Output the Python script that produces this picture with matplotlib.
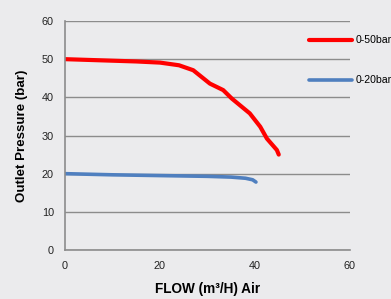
import matplotlib
matplotlib.use('agg')
import matplotlib.pyplot as plt

plt.rcParams['font.family'] = ['Liberation Sans', 'DejaVu Sans']

# flow (m3/h) vs outlet pressure (bar)
flow_50 = [0, 5, 10, 15, 20, 24, 27, 30.5, 33.3, 35.1, 38.9, 41.1, 42.5, 44.6, 45]
pres_50 = [50, 49.8, 49.6, 49.4, 49.1, 48.4, 47.1, 43.6, 41.9, 39.7, 35.8, 32.3, 29.2, 26.2, 25]
flow_20 = [0, 10, 20, 30, 35, 38, 39.5, 40.2]
pres_20 = [20, 19.7, 19.5, 19.3, 19.1, 18.8, 18.4, 17.8]
labels = ['0-50bar', '0-20bar']

bg = '#ebebed'
grid_col = '#8c8c8c'

fig = plt.figure(figsize=(3.91, 2.99), dpi=100, facecolor=bg)
ax = fig.add_axes([65/391, 49/299, 285/391, 229/299])
ax.set_facecolor(bg)

ax.plot(flow_50, pres_50, color='#ff0000', lw=3.0, solid_capstyle='round', label=labels[0])
ax.plot(flow_20, pres_20, color='#4f7fbf', lw=2.6, solid_capstyle='round', label=labels[1])

ax.set_xlim(0, 60)
ax.set_ylim(0, 60)
ax.set_xticks([0, 20, 40, 60])
ax.set_yticks(range(0, 61, 10))
ax.grid(axis='y', color=grid_col, lw=1.0)
ax.set_axisbelow(True)
for s in ['top', 'right']:
    ax.spines[s].set_visible(False)
for s in ['left', 'bottom']:
    ax.spines[s].set_color(grid_col)
    ax.spines[s].set_linewidth(1.2)
ax.tick_params(length=0, labelsize=7.8, colors='#222222', pad=8)

ax.set_xlabel('FLOW (m³/H) Air', fontsize=9.8, fontweight='bold', labelpad=8)
ax.set_ylabel('Outlet Pressure (bar)', fontsize=9.6, fontweight='bold', labelpad=10)

fig.legend(loc='upper left', bbox_to_anchor=(309/391, 0.882), frameon=False,
           fontsize=7.6, handlelength=4.1, handletextpad=0.3, borderpad=0,
           borderaxespad=0, labelspacing=2.85)

plt.savefig('out.png', dpi=100, facecolor=bg)
